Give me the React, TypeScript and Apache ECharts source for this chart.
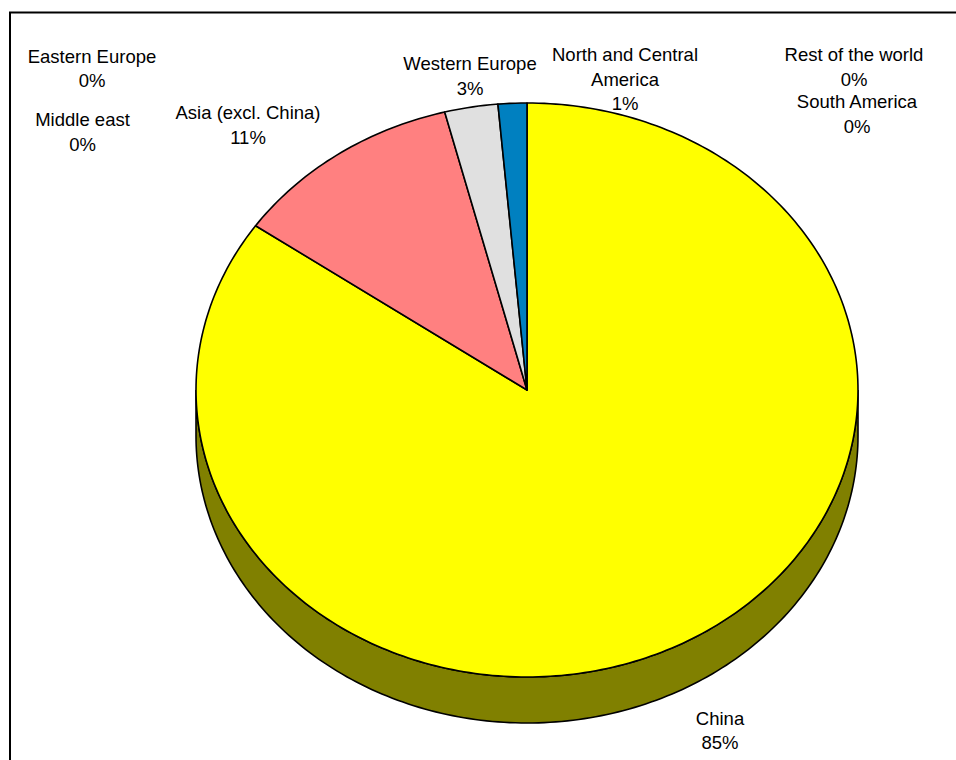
import React, { useEffect, useRef } from "react";
import * as echarts from "echarts";

// ---- data ----
const categories = [
  "China",
  "Asia (excl. China)",
  "Middle east",
  "Eastern Europe",
  "Western Europe",
  "North and Central America",
  "South America",
  "Rest of the world",
];
const shares = [84.7, 11.3, 0, 0, 2.6, 1.4, 0, 0];

// ---- styles / layout ----
const colors = ["#FFFF00", "#FF8080", "#9999FF", "#993366", "#E0E0E0", "#0080C0", "#CCFFCC", "#FFCC99"];
const labelNames = [
  "China",
  "Asia (excl. China)",
  "Middle east",
  "Eastern Europe",
  "Western Europe",
  "North and Central\nAmerica",
  "South America",
  "Rest of the world",
];
const labelPos: [number, number][] = [
  [720, 730.5],
  [248, 125],
  [82.5, 132],
  [92, 68.5],
  [470, 76],
  [625, 79],
  [857, 114],
  [854, 67],
];
const PIE = { cx: 527, cy: 390, rx: 331, ry: 287, depth: 46 };

function darken(hex: string, f: number) {
  const n = parseInt(hex.slice(1), 16);
  const r = Math.round(((n >> 16) & 255) * f);
  const g = Math.round(((n >> 8) & 255) * f);
  const b = Math.round((n & 255) * f);
  return `rgb(${r},${g},${b})`;
}

function pt(a: number, dy = 0): [number, number] {
  const rad = (a * Math.PI) / 180;
  return [PIE.cx + PIE.rx * Math.sin(rad), PIE.cy - PIE.ry * Math.cos(rad) + dy];
}

function arcPts(a0: number, a1: number, dy = 0) {
  const pts: [number, number][] = [];
  for (let a = a0; a < a1; a += 1) pts.push(pt(a, dy));
  pts.push(pt(a1, dy));
  return pts;
}

export default function App() {
  const ref = useRef<HTMLDivElement>(null);
  useEffect(() => {
    if (!ref.current) return;
    const chart = echarts.init(ref.current, undefined, { renderer: "svg" });
    const total = shares.reduce((s, v) => s + v, 0);
    const data = shares.map((v, i) => [i, v]);
    const angleRange = (i: number, v: number) => {
      let before = 0;
      for (let k = 0; k < i; k++) before += shares[k];
      return [(before / total) * 360, ((before + v) / total) * 360];
    };

    const graphics: any[] = [
      {
        type: "rect",
        shape: { x: 10, y: 12.5, width: 1200, height: 1200 },
        style: { fill: "none", stroke: "#000", lineWidth: 2 },
        z: 10,
      },
    ];
    categories.forEach((c, i) => {
      const pct = Math.round((shares[i] / total) * 100);
      graphics.push({
        type: "text",
        x: labelPos[i][0],
        y: labelPos[i][1],
        z: 20,
        style: {
          text: `${labelNames[i]}\n${pct}%`,
          textAlign: "center",
          textVerticalAlign: "middle",
          fontSize: 18.5,
          lineHeight: 24.5,
          fontFamily: "Liberation Sans, Arial, sans-serif",
          fill: "#000",
        },
      });
    });

    chart.setOption({
      animation: false,
      backgroundColor: "#fff",
      graphic: graphics,
      series: [
        {
          type: "custom",
          coordinateSystem: "none",
          silent: true,
          z: 1,
          data,
          renderItem: (params: any, api: any) => {
            const i = params.dataIndex;
            const v = api.value(1);
            if (v <= 0) return null;
            const [a0, a1] = angleRange(i, v);
            const s = Math.max(a0, 90);
            const e = Math.min(a1, 270);
            if (e <= s) return null;
            const top = arcPts(s, e, 0);
            const bottom = arcPts(s, e, PIE.depth).reverse();
            return {
              type: "polygon",
              shape: { points: top.concat(bottom) },
              style: { fill: darken(colors[i], 0.5), stroke: "#000", lineWidth: 1.6 },
            };
          },
        },
        {
          type: "custom",
          coordinateSystem: "none",
          silent: true,
          z: 2,
          data,
          renderItem: (params: any, api: any) => {
            const i = params.dataIndex;
            const v = api.value(1);
            if (v <= 0) return null;
            const [a0, a1] = angleRange(i, v);
            const pts: [number, number][] = [[PIE.cx, PIE.cy], ...arcPts(a0, a1, 0)];
            return {
              type: "polygon",
              shape: { points: pts },
              style: { fill: colors[i], stroke: "#000", lineWidth: 1.6, lineJoin: "round" },
            };
          },
        },
      ],
    });
    return () => chart.dispose();
  }, []);
  return (
    <div
      ref={ref}
      style={{ position: "absolute", left: 0, top: 0, width: 956, height: 760 }}
    />
  );
}
